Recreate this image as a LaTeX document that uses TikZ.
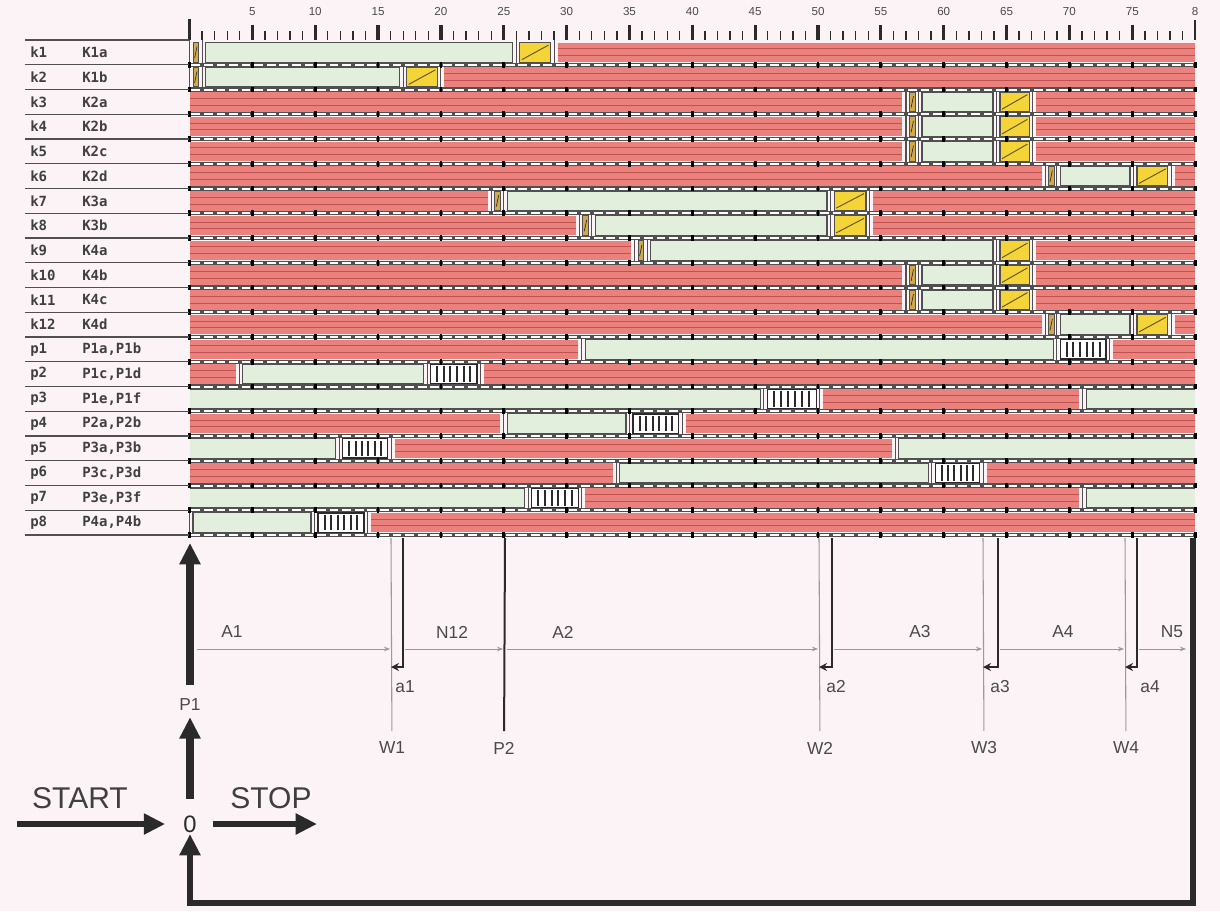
\documentclass[tikz,border=0pt]{standalone}
\usepackage{fontspec}
\setmainfont{Liberation Sans}
\newfontfamily\lblfont{DejaVu Sans Mono}
\usetikzlibrary{arrows.meta}
\definecolor{bgc}{HTML}{FBF3F5}
\definecolor{redfill}{HTML}{EA817D}
\definecolor{redline}{HTML}{BE5350}
\definecolor{greenfill}{HTML}{E2EFDC}
\definecolor{boxline}{HTML}{505050}
\definecolor{yelfill}{HTML}{F5D438}
\definecolor{tinyfill}{HTML}{D2A94A}
\definecolor{inkc}{HTML}{2A2A2A}
\definecolor{labc}{HTML}{4A4A4A}
\definecolor{thinc}{HTML}{9A9A9A}
\def\XO{189.5}
\def\UU{12.57}
\newcommand\segR[4]{%
 \pgfmathsetmacro\sxa{\XO+\UU*((#1==0) ? 0 : #1+0.28)}%
 \pgfmathsetmacro\sxb{\XO+\UU*((#2==80) ? 80 : #2-0.28)}%
 \pgfmathsetmacro\syA{#3+0.32*(#4-#3)}%
 \pgfmathsetmacro\syB{#3+0.66*(#4-#3)}%
 \fill[redfill] (\sxa,#3) rectangle (\sxb,#4);
 \draw[redline,line width=0.6pt] (\sxa,\syA) -- (\sxb,\syA) (\sxa,\syB) -- (\sxb,\syB);}
\newcommand\segG[4]{%
 \pgfmathsetmacro\sxa{\XO+\UU*(#1+0.28)}%
 \pgfmathsetmacro\sxb{\XO+\UU*(#2-0.28)}%
 \filldraw[fill=greenfill,draw=boxline,line width=0.9pt] (\sxa,#3) rectangle (\sxb,#4);}
\newcommand\segA[4]{%
 \pgfmathsetmacro\sxb{\XO+\UU*(#2-0.28)}%
 \fill[greenfill] (\XO,#3) rectangle (\sxb,#4);
 \draw[boxline,line width=0.9pt] (\XO,#3) -- (\sxb,#3) -- (\sxb,#4) -- (\XO,#4);}
\newcommand\segE[4]{%
 \pgfmathsetmacro\sxa{\XO+\UU*(#1+0.28)}%
 \pgfmathsetmacro\sxe{\XO+\UU*80}%
 \fill[greenfill] (\sxa,#3) rectangle (\sxe,#4);
 \draw[boxline,line width=0.9pt] (\sxe,#3) -- (\sxa,#3) -- (\sxa,#4) -- (\sxe,#4);}
\newcommand\segY[4]{%
 \pgfmathsetmacro\sxa{\XO+\UU*(#1+0.28)}%
 \pgfmathsetmacro\sxb{\XO+\UU*(#2-0.28)}%
 \filldraw[fill=yelfill,draw=boxline,line width=0.9pt] (\sxa,#3) rectangle (\sxb,#4);
 \draw[inkc!75!yelfill,line width=0.7pt] ({\sxa+2},{#4-2.5}) -- ({\sxb-2},{#3+2.5});}
\newcommand\segT[4]{%
 \pgfmathsetmacro\sxc{\XO+\UU*(#1+#2)/2}%
 \filldraw[fill=tinyfill,draw=boxline,line width=0.7pt] ({\sxc-2.8},#3) rectangle ({\sxc+2.8},#4);
 \draw[inkc,line width=0.5pt] ({\sxc-1.2},{#4-4}) -- ({\sxc+1.2},{#3+4});}
\newcommand\segH[4]{%
 \pgfmathsetmacro\sxa{\XO+\UU*(#1+0.28)}%
 \pgfmathsetmacro\sxb{\XO+\UU*(#2-0.28)}%
 \filldraw[fill=white,draw=inkc,line width=1pt] (\sxa,#3) rectangle (\sxb,#4);
 \foreach \hk in {1,...,6}{\pgfmathsetmacro\hx{\sxa+(\sxb-\sxa)*\hk/7}%
  \draw[inkc,line width=1.5pt] (\hx,{#3+2}) -- (\hx,{#4-2});}}
\tikzset{
 lab/.style={font=\fontsize{13}{15}\selectfont, text=labc, inner sep=0pt},
 axlab/.style={font=\fontsize{8.7}{10}\selectfont, text=labc, inner sep=0pt},
 rowlab/.style={font=\lblfont\bfseries\fontsize{10.5}{12}\selectfont, text=black!75, anchor=west, inner sep=0pt},
 big/.style={font=\fontsize{22.5}{26}\selectfont, text=inkc!90, inner sep=0pt},
 bigarr/.style={draw=inkc, line width=6pt, -{Triangle[width=15pt,length=16pt]}},
 looparr/.style={draw=inkc, line width=4.5pt, line join=miter, -{Triangle[width=15pt,length=16pt]}},
 flow/.style={draw=thinc, line width=0.7pt, -{Stealth[length=4.5pt,width=3.5pt]}},
 thinv/.style={draw=thinc, line width=0.8pt},
 aline/.style={draw=inkc, line width=2.2pt, -{Stealth[length=6pt,width=6pt]}},
}
\begin{document}
\begin{tikzpicture}[x=0.75pt,y=-0.75pt]
\useasboundingbox (0,0) rectangle (1220,911);
\fill[bgc] (0,0) rectangle (1220,911);
% rows
\foreach \r/\segs in {
 0/{T/0.001/1,G/1/26,Y/26/29,R/29/80},
 1/{T/0.001/1,G/1/17,Y/17/20,R/20/80},
 2/{R/0/57,T/57/58,G/58/64.2,Y/64.2/67.1,R/67.1/80},
 3/{R/0/57,T/57/58,G/58/64.2,Y/64.2/67.1,R/67.1/80},
 4/{R/0/57,T/57/58,G/58/64.2,Y/64.2/67.1,R/67.1/80},
 5/{R/0/68.1,T/68.1/69,G/69/75.1,Y/75.1/78.1,R/78.1/80},
 6/{R/0/24,T/24/25,G/25/51,Y/51/54.1,R/54.1/80},
 7/{R/0/31,T/31/32,G/32/51,Y/51/54.1,R/54.1/80},
 8/{R/0/35.4,T/35.4/36.4,G/36.4/64.2,Y/64.2/67.1,R/67.1/80},
 9/{R/0/57,T/57/58,G/58/64.2,Y/64.2/67.1,R/67.1/80},
 10/{R/0/57,T/57/58,G/58/64.2,Y/64.2/67.1,R/67.1/80},
 11/{R/0/68.1,T/68.1/69,G/69/75.1,Y/75.1/78.1,R/78.1/80},
 12/{R/0/31.2,G/31.2/69,H/69/73.2,R/73.2/80},
 13/{R/0/3.95,G/3.95/18.9,H/18.9/23.15,R/23.15/80},
 14/{A/0/45.7,H/45.7/50.15,R/50.15/71.05,E/71.05/80},
 15/{R/0/25,G/25/35,H/35/39.2,R/39.2/80},
 16/{A/0/11.9,H/11.9/16.05,R/16.05/56.15,E/56.15/80},
 17/{R/0/33.95,G/33.95/59.05,H/59.05/63.15,R/63.15/80},
 18/{A/0/26.95,H/26.95/31.2,R/31.2/71.05,E/71.05/80},
 19/{G/0.001/9.95,H/9.95/14.15,R/14.15/80}}{
  \pgfmathsetmacro\ryt{40+24.75*\r+2.6}
  \pgfmathsetmacro\ryb{40+24.75*\r+24.75-2.6}
  \foreach \st/\bnda/\bndb in \segs {\csname seg\st\endcsname{\bnda}{\bndb}{\ryt}{\ryb}}
  \foreach \st/\bnda/\bndb in \segs {\ifdim\bnda pt>0pt \draw[boxline,line width=0.8pt] ({\XO+\UU*\bnda},{\ryt-2.6}) -- ({\XO+\UU*\bnda},{\ryb+2.6});\fi}
}
% bands
\foreach \r in {1,...,20}{
 \pgfmathsetmacro\by{40+24.75*\r}
 \fill[boxline] (\XO,{\by-2.2}) rectangle ({\XO+\UU*80},{\by+2.2});
 \draw[white,line width=1.5pt,dash pattern=on 6.6pt off 2.83pt] ({\XO+\UU*0.15},\by) -- ({\XO+\UU*80},\by);
 \foreach \k in {0,5,...,80}{\fill[black] ({\XO+\UU*\k-1.4},{\by-2.8}) rectangle ({\XO+\UU*\k+1.4},{\by+2.8});}
}
% axis
\foreach \k in {1,...,79}{
 \pgfmathtruncatemacro\km{mod(\k,5)}
 \pgfmathsetmacro\kx{\XO+\UU*\k}
 \ifnum\km=0 \draw[inkc,line width=2.4pt] (\kx,25) -- (\kx,40);
 \else \draw[inkc,line width=1pt] (\kx,31) -- (\kx,40);\fi}
\draw[inkc,line width=2.4pt] (\XO,19) -- (\XO,40);
\draw[inkc,line width=1pt] ({\XO+\UU*80},20) -- ({\XO+\UU*80},40);
\foreach \k in {5,10,...,75}{\node[axlab] (t\k) at ({\XO+\UU*\k},12) {\k};}
\node[axlab] (t80) at ({\XO+\UU*80},12) {8};
% label column
\foreach \r in {0,...,20}{\draw[boxline,line width=1pt] (25,{40+24.75*\r}) -- (189,{40+24.75*\r});}
\foreach \r/\la/\lb in {0/k1/K1a,1/k2/K1b,2/k3/K2a,3/k4/K2b,4/k5/K2c,5/k6/K2d,6/k7/K3a,7/k8/K3b,8/k9/K4a,9/k10/K4b,10/k11/K4c,11/k12/K4d,12/p1/{P1a,P1b},13/p2/{P1c,P1d},14/p3/{P1e,P1f},15/p4/{P2a,P2b},16/p5/{P3a,P3b},17/p6/{P3c,P3d},18/p7/{P3e,P3f},19/p8/{P4a,P4b}}{
 \node[rowlab] (ra\r) at (30,{40+24.75*\r+12.4}) {\la};
 \node[rowlab] (rb\r) at (82,{40+24.75*\r+12.4}) {\lb};}
% bottom part
\coordinate (p1tip) at (190,543);
\node[lab] (P1lab) at (190,705) {P1};
\node[font=\fontsize{17.8}{20}\selectfont, text=inkc, inner sep=1pt] (zero) at (190,824) {0};
\node[big] (start) at (80,798) {START};
\node[big] (stop) at (271,798) {STOP};
\coordinate (startpt) at (17,824);
\coordinate (stoppt) at (317,824);
\draw[bigarr, shorten <=10.5pt] (P1lab) -- (p1tip);
\draw[bigarr, shorten <=11pt, shorten >=4.5pt] (zero) -- (P1lab);
\draw[bigarr, line width=5.2pt, shorten >=12.5pt] (startpt) -- (zero);
\draw[bigarr, line width=5.2pt, shorten <=11pt] (zero) -- (stoppt);
\coordinate (looptop) at (1193,538);
\coordinate (loopbr) at (1193,903);
\coordinate (loopbl) at (190,903);
\draw[looparr] (looptop) -- (loopbr) -- (loopbl) -- (zero);
% W and P2 lines
\foreach \n/\x in {W1/391,W2/819,W3/983,W4/1125}{
 \node[lab] (\n) at (\x+1,748) {\n};
 \coordinate (\n top) at (\x,538);
 \draw[thinv, shorten >=8pt] (\n top) -- (\n);}
\node[lab] (P2lab) at (504,748) {P2};
\coordinate (P2top) at (505,538);
\draw[draw=inkc,line width=1.5pt, shorten >=8pt] (P2top) -- (P2lab);
% a lines
\foreach \n/\x/\w/\lx in {a1/403/391/405,a2/832/819/836,a3/998/983/1000,a4/1137/1125/1150}{
 \coordinate (\n top) at (\x,538);
 \coordinate (\n end) at (\w,667);
 \draw[aline] (\n top) |- (\n end);
 \node[lab] (\n lab) at (\lx,687) {\n};}
% flow line
\foreach \i/\xa/\xb in {1/197/390,2/405/503,3/507/818,4/834/982,5/1000/1124,6/1139/1186}{
 \coordinate (f\i a) at (\xa,649);
 \coordinate (f\i b) at (\xb,649);
 \draw[flow] (f\i a) -- (f\i b);}
\node[lab] (A1) at (232,632) {A1};
\node[lab] (N12) at (452,632) {N12};
\node[lab] (A2) at (563,632) {A2};
\node[lab] (A3) at (920,632) {A3};
\node[lab] (A4) at (1063,632) {A4};
\node[lab] (N5) at (1172,632) {N5};
\end{tikzpicture}
\end{document}
